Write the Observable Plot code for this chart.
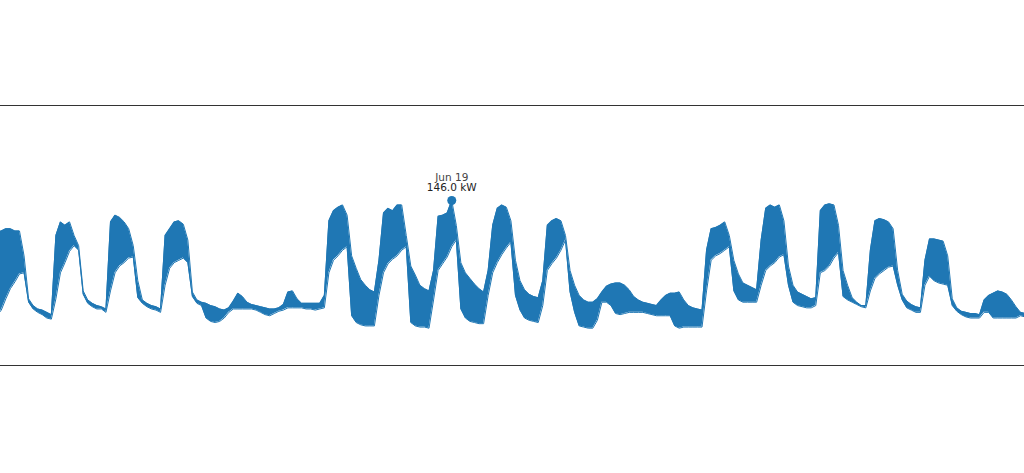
<!DOCTYPE html>
<html><head><meta charset="utf-8">
<script src="https://cdn.jsdelivr.net/npm/d3@7"></script>
<script src="https://cdn.jsdelivr.net/npm/@observablehq/plot@0.6"></script>
<style>html,body{margin:0;padding:0;background:#fff}#chart svg{display:block}</style>
</head><body><div id="chart"></div>
<script>
// Power readings (kW), one sample every 2 hours, as upper / lower envelope of the dense trace
const seriesStart = "2024-06-11T06:00:00Z";
const stepHours = 2;
const upperKW = [
118,119,121,121,119,119,97,59,53,50,
49,47,45,115,127,124,127,115,106,66,
58,55,53,52,50,127,133,131,127,121,
106,75,58,55,53,52,50,115,121,127,
128,125,111,65,58,56,55,53,52,50,
49,51,57,64,61,56,54,53,52,51,
50,50,51,54,65,66,59,55,55,55,
55,55,62,128,137,140,142,133,97,86,
76,71,67,65,93,135,139,137,142,142,
115,88,80,71,68,66,84,132,133,135,
146,124,91,82,77,72,68,65,84,124,
139,142,140,128,93,75,67,63,61,60,
75,124,128,130,128,115,84,71,62,58,
56,56,59,65,70,72,73,73,71,67,
61,58,56,55,54,53,58,62,64,64,
65,58,53,51,50,49,102,121,122,124,
127,115,93,81,73,71,69,67,111,139,
142,140,142,128,88,71,65,63,61,59,
60,137,142,143,142,124,84,71,60,56,
53,53,102,128,130,129,127,121,84,63,
57,54,52,51,93,112,112,111,110,97,
59,51,48,47,46,46,45,58,62,64,
66,65,63,58,52,47,46
];
const lowerKW = [
44,49,59,68,74,81,82,56,50,47,
45,42,41,59,82,91,101,106,102,63,
55,52,50,50,47,66,82,88,91,95,
96,60,55,52,50,49,47,71,86,91,
93,95,91,61,55,53,42,39,38,39,
42,47,50,50,50,50,50,49,47,45,
44,46,48,49,51,51,51,51,50,50,
49,50,51,82,93,97,102,105,44,38,
36,35,35,35,62,82,90,94,97,102,
105,38,35,34,34,33,58,84,90,96,
105,111,50,42,39,38,37,37,62,82,
91,98,104,109,62,49,42,40,39,38,
53,84,90,95,102,111,65,47,35,34,
33,33,40,56,56,53,46,45,46,47,
47,47,47,46,45,44,44,44,44,35,
33,34,34,34,34,34,66,93,97,99,
102,105,66,58,56,56,56,56,71,84,
88,91,96,98,71,56,53,52,51,51,
53,82,84,88,95,100,61,58,56,54,
52,51,66,77,81,84,87,88,71,58,
51,49,47,47,71,79,75,73,72,71,
53,48,45,43,42,42,42,47,47,42,
42,42,42,42,42,44,43
];
const peakTime = ["2024-06-19T14:00:00Z"];
const peakKW = [146.0];
const peakLabel = ["Jun 19"];
const xDomain = ["2024-06-11T07:39:00Z", "2024-06-30T01:45:00Z"];
const yDomain = [0, 230];

const t0 = new Date(seriesStart);
const data = upperKW.map((u, i) => ({t: new Date(+t0 + i * stepHours * 3600e3), hi: u, lo: lowerKW[i]}));
const peak = peakTime.map((t, i) => ({t: new Date(t), v: peakKW[i], label: peakLabel[i], val: `${peakKW[i].toFixed(1)} kW`}));
const blue = "#1f77b4";

const chart = Plot.plot({
  width: 1024,
  height: 473,
  marginTop: 105,
  marginBottom: 108,
  marginLeft: 0,
  marginRight: 0,
  style: {fontFamily: "DejaVu Sans, sans-serif", background: "#fff"},
  x: {type: "utc", domain: xDomain.map(d => new Date(d)), axis: null},
  y: {domain: yDomain, axis: null},
  marks: [
    Plot.areaY(data, {x: "t", y1: "lo", y2: "hi", fill: blue, clip: true}),
    Plot.lineY(data, {x: "t", y: "hi", stroke: blue, strokeWidth: 1, clip: true}),
    Plot.lineY(data, {x: "t", y: "lo", stroke: blue, strokeWidth: 1, clip: true}),
    Plot.ruleY(yDomain, {stroke: "#333", strokeWidth: 1}),
    Plot.dot(peak, {x: "t", y: "v", r: 4.5, fill: blue, stroke: "none"}),
    Plot.text(peak, {x: "t", y: "v", text: "val", dy: -13, fontSize: 10.5, fill: "#222"}),
    Plot.text(peak, {x: "t", y: "v", text: "label", dy: -23, fontSize: 10.5, fill: "#444"})
  ]
});
document.getElementById("chart").appendChild(chart);
</script>
</body></html>
